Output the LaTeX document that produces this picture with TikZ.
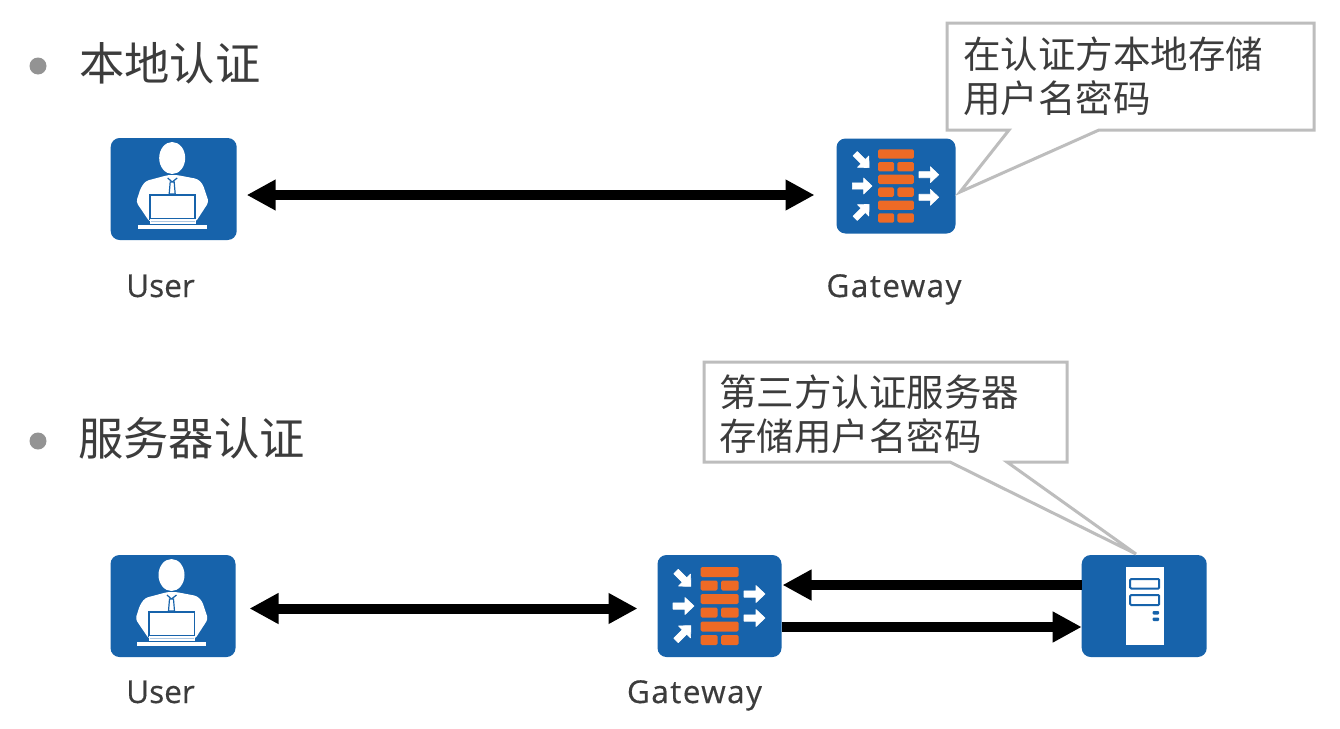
\documentclass[tikz,border=0pt]{standalone}
\usepackage{fontspec}
\setmainfont{Open Sans}
\newfontfamily\cjk{Noto Sans CJK SC}
\newfontfamily\ufont[FakeBold=0.4]{Open Sans}
\newfontfamily\gwfont[LetterSpace=4.5,FakeBold=0.4]{Open Sans}
\usetikzlibrary{arrows.meta}
\definecolor{iconblue}{HTML}{1763AB}
\definecolor{brick}{HTML}{EE6A25}
\definecolor{txt}{HTML}{3C3C3C}
\definecolor{calloutgray}{HTML}{BDBDBD}
\tikzset{
  iconbox/.style={fill=iconblue,rounded corners=9pt,inner sep=0pt,outer sep=0pt,draw=none},
  bullet/.style={circle,fill=gray!85,minimum size=17pt,inner sep=0pt},
  heading/.style={font=\cjk\fontsize{45.3}{50}\selectfont,text=txt,anchor=west,inner sep=0pt},
  calltext/.style={font=\cjk\fontsize{37.5}{44}\selectfont,text=txt,anchor=north west,align=left,inner sep=0pt},
  userlabel/.style={font=\ufont\fontsize{31.5}{36}\selectfont,text=txt,inner sep=0pt,anchor=base},
  gwlabel/.style={font=\gwfont\fontsize{31.5}{36}\selectfont,text=txt,inner sep=0pt,anchor=base},
  callout/.style={draw=calloutgray,line width=3pt,fill=white,line join=miter},
  dbl/.style={line width=10pt,draw=black,{Triangle[length=29pt,width=29pt]}-{Triangle[length=29pt,width=29pt]}},
  one/.style={line width=10pt,draw=black,-{Triangle[length=29pt,width=29pt]}},
}
% block arrow
\newcommand{\blockarr}[3]{\fill[white,line join=round,draw=white,line width=.6pt,shift={(#1,#2)},rotate=#3] (-10.5,-3.2) -- (1.5,-3.2) -- (1.5,-8.5) -- (10.5,0) -- (1.5,8.5) -- (1.5,3.2) -- (-10.5,3.2) -- cycle;}
\newcommand{\fwicon}[3]{\begin{scope}[shift={(#1,#2)},scale=#3]
  \foreach \a/\b in {-39/-29,-12/-2,15.5/25.5}{\fill[brick,rounded corners=1.5pt] (-19,\a) rectangle (19,\b);}
  \foreach \a/\b in {-25.5/-15.5,1.5/11.5,29/39}{
    \fill[brick,rounded corners=1.5pt] (-19,\a) rectangle (-2,\b);
    \fill[brick,rounded corners=1.5pt] (1.5,\a) rectangle (19,\b);}
  \blockarr{-36}{-27}{-45}
  \blockarr{-36}{0}{0}
  \blockarr{-36}{27}{45}
  \blockarr{35}{-12}{0}
  \blockarr{35}{12}{0}
\end{scope}}
\newcommand{\usericon}[3]{\begin{scope}[shift={(#1,#2)},scale=#3]
  \fill[white] (-1.5,-31) ellipse (13 and 16);
  \fill[white,rounded corners=3pt] (-5.4,-14) -- (-28,-8) -- (-33,-1) -- (-37.5,13) -- (-24,33) -- (22,33) -- (35,13) -- (29,-5) -- (24,-10) -- (3,-14) -- cycle;
  \draw[iconblue,line width=1.2pt] (-6,-11) -- (-1.5,-7) -- (3.5,-11);
  \draw[iconblue,line width=1.2pt,fill=white] (-3.5,-7) -- (0.5,-7) -- (1.5,5) -- (-4.5,5) -- cycle;
  \draw[iconblue,line width=1.6pt,fill=white] (-24,6) rectangle (21.5,30);
  \fill[white] (-24,30) rectangle (22,35);
  \draw[iconblue!35,line width=.8pt] (-23,32) -- (21,32);
  \fill[white] (-36,35.5) rectangle (33,39.5);
\end{scope}}
\newcommand{\servericon}[3]{\begin{scope}[shift={(#1,#2)},scale=#3]
  \fill[white] (-18,-39) rectangle (19.5,39);
  \draw[iconblue,line width=2pt,rounded corners=1pt] (-14,-27) rectangle (15,-17.5);
  \draw[iconblue,line width=2pt,rounded corners=1pt] (-14,-11) rectangle (15,-1);
  \fill[iconblue,rounded corners=1pt] (8.5,5) rectangle (15,8.5);
  \fill[iconblue,rounded corners=1pt] (8.5,11.5) rectangle (15,15);
\end{scope}}
\begin{document}
\begin{tikzpicture}[x=1pt,y=-1pt]
\useasboundingbox[fill=white] (0,0) rectangle (1340,728);
% headings
\node[bullet] (b1) at (38,66) {};
\node[bullet] (b2) at (38,441) {};
\node[heading] (h1) at (79,63) {本地认证};
\node[heading] (h2) at (78,438) {服务器认证};
% icons row 1
\node[iconbox,minimum width=126pt,minimum height=102pt] (userA) at (173.7,189) {};
\node[iconbox,minimum width=119pt,minimum height=95pt] (gwA) at (896,186) {};
\usericon{173.7}{189}{1}
\fwicon{896}{186}{0.94}
\node[userlabel] (lu1) at (160.5,297) {User};
\node[gwlabel] (lg1) at (894,297) {Gateway};
% icons row 2
\node[iconbox,minimum width=125pt,minimum height=102pt] (userB) at (173,606) {};
\node[iconbox,minimum width=124pt,minimum height=102pt] (gwB) at (719.5,606) {};
\node[iconbox,minimum width=125pt,minimum height=102pt] (srv) at (1144.2,606) {};
\usericon{173}{606}{1}
\fwicon{719.5}{606}{1}
\servericon{1144.2}{606}{1}
\node[userlabel] (lu2) at (160.5,703) {User};
\node[gwlabel] (lg2) at (694.5,703) {Gateway};
% connectors
\draw[dbl,shorten <=10pt,shorten >=22pt] ([yshift=-6pt]userA.east) -- ([yshift=-9pt]gwA.west);
\draw[dbl,shorten <=14pt,shorten >=20pt] ([yshift=-2.5pt]userB.east) -- ([yshift=-2.5pt]gwB.west);
\draw[one] ([yshift=21pt]srv.west) -- ([yshift=21pt,xshift=1pt]gwB.east);
\draw[one] ([yshift=-21pt]gwB.east) -- ([yshift=-21pt]srv.west);
% callouts
\draw[callout] (947,23) -- (1314,23) -- (1314,130) -- (1099,130) -- (960,192) -- (1009,130) -- (947,130) -- cycle;
\node[calltext] (c1) at (963,37) {在认证方本地存储\\用户名密码};
\draw[callout] (704,362) -- (1067,362) -- (1067,462) -- (1007,462) -- (1136,554) -- (950,462) -- (704,462) -- cycle;
\node[calltext] (c2) at (719,375) {第三方认证服务器\\存储用户名密码};
\end{tikzpicture}
\end{document}
